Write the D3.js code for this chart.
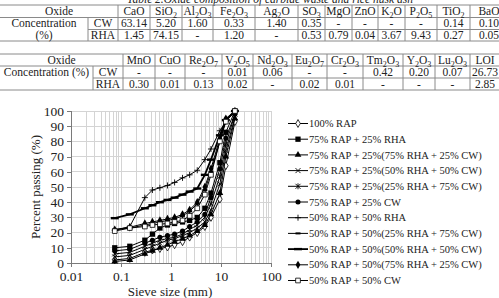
<!DOCTYPE html>
<html><head><meta charset="utf-8">
<script src="https://cdn.jsdelivr.net/npm/d3@7"></script>
<style>html,body{margin:0;padding:0;background:#fff;}svg{display:block;}</style>
</head><body>
<script>
// ---------- DATA ----------
const tableTitle = "Table 2.Oxide composition of carbide waste and rice husk ash";
const t1Oxides = ["CaO","SiO2","Al2O3","Fe2O3","Ag2O","SO3","MgO","ZnO","K2O","P2O5","TiO2","BaO"];
const t1CW  = ["63.14","5.20","1.60","0.33","1.40","0.35","-","-","-","-","0.14","0.10"];
const t1RHA = ["1.45","74.15","-","1.20","-","0.53","0.79","0.04","3.67","9.43","0.27","0.05"];
const t2Oxides = ["MnO","CuO","Re2O7","V2O5","Nd2O3","Eu2O7","Cr2O3","Tm2O3","Y2O3","Lu2O3","LOI"];
const t2CW  = ["-","-","-","0.01","0.06","-","-","0.42","0.20","0.07","26.73"];
const t2RHA = ["0.30","0.01","0.13","0.02","-","0.02","0.01","-","-","-","2.85"];

const sieveSizes = [0.075, 0.15, 0.3, 0.425, 0.6, 0.85, 1.18, 1.7, 2.36, 3.35, 4.75, 6.3, 9.5, 12.5, 19];
const seriesNames = [
  "100% RAP",
  "75% RAP + 25% RHA",
  "75% RAP + 25%(75% RHA + 25% CW)",
  "75% RAP + 25%(50% RHA + 50% CW)",
  "75% RAP + 25%(25% RHA + 75% CW)",
  "75% RAP + 25% CW",
  "50% RAP + 50% RHA",
  "50% RAP + 50%(25% RHA + 75% CW)",
  "50% RAP + 50%(50% RHA + 50% CW)",
  "50% RAP + 50%(75% RHA + 25% CW)",
  "50% RAP + 50% CW"
];
const rap100       = [2, 3, 7, 8.5, 9.5, 10.5, 12, 14, 17, 20, 24, 30, 42, 64, 93];
const rap75rha     = [10, 11, 15, 19, 23, 25, 26, 27, 28, 30, 36, 46, 66, 86, 100];
const rap75rha75cw = [1, 2, 6, 8, 10, 12, 14, 16, 18, 21, 25, 32, 46, 70, 95];
const rap75rha50cw = [4, 5, 9, 11, 13, 15, 16, 18, 20, 23, 27, 35, 52, 74, 96];
const rap75rha25cw = [6, 7, 11, 13, 15, 16, 17, 19, 22, 25, 30, 39, 57, 78, 98];
const rap75cw      = [8, 9, 13, 15, 17, 18, 19, 21, 24, 27, 32, 43, 62, 82, 98];
const rap50rha     = [21.5, 24, 43, 48, 49.5, 51, 53, 56, 58, 61, 68, 75, 87, 93, 100];
const rap50rha25cw = [22, 23, 25, 26, 27, 28, 29, 31, 34, 39, 48, 60, 80, 94, 100];
const rap50rha50cw = [29.5, 32, 36, 38, 40, 41.5, 43, 45, 47, 49, 58, 68, 84, 94, 100];
const rap50rha75cw = [22, 23.5, 26, 27, 28, 29, 30, 32, 35, 40, 50, 62, 82, 95, 100];
const rap50cw      = [21, 23, 24, 25, 25.5, 26, 27, 28, 31, 36, 45, 58, 80, 93, 100];
const seriesValues = [rap100, rap75rha, rap75rha75cw, rap75rha50cw, rap75rha25cw, rap75cw,
                      rap50rha, rap50rha25cw, rap50rha50cw, rap50rha75cw, rap50cw];
const markerTypes = ["diamondOpen","square","triangle","x","asterisk","circle","plus","dashShort","dashLong","diamond","squareOpen"];
const yTicks = [0,10,20,30,40,50,60,70,80,90,100];
const xTicks = [0.01, 0.1, 1, 10, 100];
const xTickLabels = ["0.01","0.1","1","10","100"];

// ---------- LAYOUT ----------
const W = 499, H = 298;
const FONT = '"Times New Roman", Tinos, serif';
const svg = d3.select("body").append("svg").attr("width", W).attr("height", H);

function chemText(sel, label, size) {
  const parts = label.match(/[0-9]+|[^0-9]+/g);
  parts.forEach(p => {
    if (/^[0-9]+$/.test(p)) {
      sel.append("tspan").style("font-size", (size*0.7) + "px").attr("baseline-shift", "-2.5").text(p);
    } else sel.append("tspan").text(p);
  });
}

const lineCol = "#8a8a8a", txtCol = "#222";
const tFont = 11.5;
function drawTable(g, oxides, cw, rha, edges, rowY, leftW, leftLines) {
  const fullR = W + 10;
  [rowY[0], rowY[1], rowY[3]].forEach(y => g.append("line").attr("x1",0).attr("x2",fullR)
      .attr("y1",y).attr("y2",y).attr("stroke",lineCol).attr("stroke-width",1));
  g.append("line").attr("x1",leftW).attr("x2",fullR).attr("y1",rowY[2]).attr("y2",rowY[2])
      .attr("stroke",lineCol).attr("stroke-width",1);
  g.append("line").attr("x1",leftW).attr("x2",leftW).attr("y1",rowY[1]).attr("y2",rowY[3]).attr("stroke",lineCol);
  edges.forEach(x => g.append("line").attr("x1",x).attr("x2",x).attr("y1",rowY[0]).attr("y2",rowY[3]).attr("stroke",lineCol));
  const cy = i => (rowY[i] + rowY[i+1]) / 2 + 3.9;
  const txt = (xx, yy) => g.append("text").attr("x", xx).attr("y", yy).attr("text-anchor","middle")
      .style("font-size", tFont + "px").attr("fill", txtCol);
  txt(edges[0]/2, cy(0)).text("Oxide");
  oxides.forEach((o, i) => chemText(txt((edges[i]+edges[i+1])/2, cy(0)), o, tFont));
  leftLines.forEach((s, k) => txt(leftW/2, cy(1+k)).text(s));
  txt((leftW+edges[0])/2, cy(1)).text("CW");
  txt((leftW+edges[0])/2, cy(2)).text("RHA");
  cw.forEach((v, i) => txt((edges[i]+edges[i+1])/2, cy(1)).text(v));
  rha.forEach((v, i) => txt((edges[i]+edges[i+1])/2, cy(2)).text(v));
}

svg.append("text").attr("x", 270).attr("y", 2.5).attr("text-anchor","middle")
   .style("font-style","italic").style("font-size", "11.5px").attr("fill", txtCol).text(tableTitle);

drawTable(svg.append("g"), t1Oxides, t1CW, t1RHA, [118,150,182,213,255,298,325,352,378,405,437,470,508],
          [5,17.5,29.5,41], 88, ["Concentration","(%)"]);
drawTable(svg.append("g"), t2Oxides, t2CW, t2RHA, [123,155,185,222,253,292,327,363,403,435,470,500],
          [54,66,78,90], 93, ["Concentration (%)"]);

// ---------- CHART ----------
const x = d3.scaleLog().domain([0.01, 100]).range([71, 271]);
const y = d3.scaleLinear().domain([0, 100]).range([263, 111]);
const grid = svg.append("g");
const minor = [];
for (let e = -2; e <= 1; e++) for (let m = 1; m <= 9; m++) minor.push(m * Math.pow(10, e));
minor.push(100);
grid.selectAll("line.v").data(minor).enter().append("line")
  .attr("x1", d => x(d)).attr("x2", d => x(d)).attr("y1", y(0)).attr("y2", y(100))
  .attr("stroke", "#d4d4d4").attr("stroke-width", 1).attr("shape-rendering","crispEdges");
grid.selectAll("line.h").data(yTicks).enter().append("line")
  .attr("x1", x(0.01)).attr("x2", x(100)).attr("y1", d => y(d)).attr("y2", d => y(d))
  .attr("stroke", "#d4d4d4").attr("stroke-width", 1).attr("shape-rendering","crispEdges");

const yAxis = svg.append("g").attr("transform", `translate(${x(0.01)},0)`)
  .call(d3.axisLeft(y).tickValues(yTicks).tickSize(4).tickPadding(3));
const xAxis = svg.append("g").attr("transform", `translate(0,${y(0)})`)
  .call(d3.axisBottom(x).tickValues(xTicks).tickFormat((d, i) => xTickLabels[i]).tickSize(4).tickPadding(4));
[yAxis, xAxis].forEach(a => {
  a.attr("font-family", null).attr("font-size", null);
  a.selectAll("path,line").attr("stroke", "#7a7a7a").attr("shape-rendering","crispEdges");
  a.selectAll("text").style("font-size", "13.5px").attr("fill", txtCol);
});
svg.append("text").attr("x", 170).attr("y", 296).attr("text-anchor","middle")
  .style("font-size", "13px").attr("fill", txtCol).text("Sieve size (mm)");
svg.append("text").attr("transform", `translate(40,${(y(0)+y(100))/2}) rotate(-90)`).attr("text-anchor","middle")
  .style("font-size", "13px").attr("fill", txtCol).text("Percent passing (%)");

function drawMarker(g, type, cx, cy) {
  const k = "#000";
  const sym = (s, a) => g.append("path").attr("d", d3.symbol(s, a)()).attr("transform",`translate(${cx},${cy})`);
  const pth = (d, w) => g.append("path").attr("d", d).attr("stroke", k).attr("stroke-width", w).attr("fill","none");
  switch (type) {
    case "diamondOpen": sym(d3.symbolDiamond, 18).attr("fill","#fff").attr("stroke",k).attr("stroke-width",0.8); break;
    case "diamond": sym(d3.symbolDiamond, 20).attr("fill",k); break;
    case "square": sym(d3.symbolSquare, 28).attr("fill",k); break;
    case "squareOpen": sym(d3.symbolSquare, 22).attr("fill","#fff").attr("stroke",k).attr("stroke-width",0.8); break;
    case "triangle": sym(d3.symbolTriangle, 20).attr("fill",k); break;
    case "circle": sym(d3.symbolCircle, 20).attr("fill",k); break;
    case "x": pth(`M${cx-2.5},${cy-2.5}L${cx+2.5},${cy+2.5}M${cx-2.5},${cy+2.5}L${cx+2.5},${cy-2.5}`, 0.9); break;
    case "asterisk": pth(`M${cx-2.5},${cy-2.5}L${cx+2.5},${cy+2.5}M${cx-2.5},${cy+2.5}L${cx+2.5},${cy-2.5}M${cx},${cy-3}L${cx},${cy+3}`, 0.9); break;
    case "plus": pth(`M${cx-3},${cy}L${cx+3},${cy}M${cx},${cy-3}L${cx},${cy+3}`, 0.9); break;
    case "dashShort": pth(`M${cx-2.5},${cy}L${cx+2.5},${cy}`, 2); break;
    case "dashLong": pth(`M${cx-4},${cy}L${cx+4},${cy}`, 2.4); break;
  }
}

const lineGen = d3.line().x(d => x(d[0])).y(d => y(d[1]));
const plot = svg.append("g");
seriesValues.forEach((vals, si) => {
  const pts = sieveSizes.map((s, i) => [s, vals[i]]);
  const thick = markerTypes[si] === "dashLong" ? 1.8 : 1;
  const g = plot.append("g");
  g.append("path").attr("d", lineGen(pts)).attr("fill","none").attr("stroke","#000").attr("stroke-width", thick);
  pts.forEach(p => drawMarker(g, markerTypes[si], x(p[0]), y(p[1])));
});

const leg = svg.append("g");
seriesNames.forEach((name, i) => {
  const ly = 123.5 + i * 15.7;
  leg.append("line").attr("x1", 288).attr("x2", 308).attr("y1", ly).attr("y2", ly)
     .attr("stroke","#000").attr("stroke-width", markerTypes[i] === "dashLong" ? 1.8 : 1);
  drawMarker(leg, markerTypes[i], 298, ly);
  leg.append("text").attr("x", 309).attr("y", ly + 3.6)
     .style("font-size", "10.5px").attr("fill", txtCol).text(name);
});

// apply the serif face on every text element
svg.selectAll("text").style("font-family", FONT);
</script>
</body></html>
